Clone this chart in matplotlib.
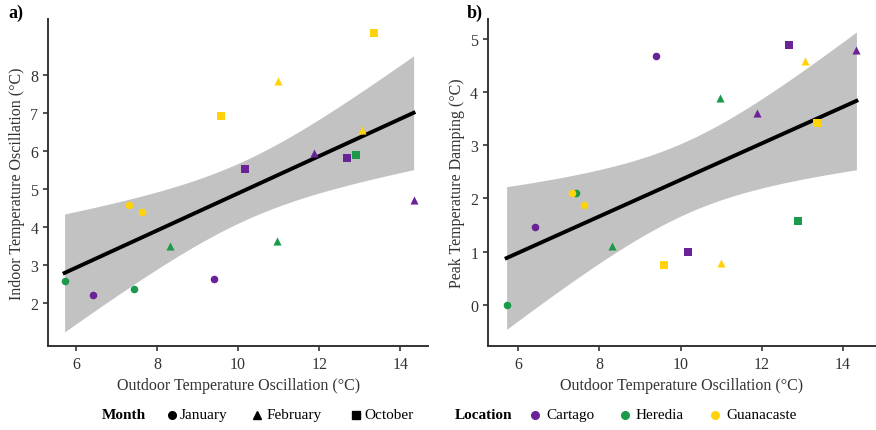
import numpy as np
import matplotlib.pyplot as plt
from matplotlib.lines import Line2D

plt.rcParams['font.family'] = ['Liberation Serif', 'DejaVu Serif']

# outdoor oscillation (shared by both panels), grouped by location then month
locations = ['Cartago', 'Heredia', 'Guanacaste']
months = ['January', 'February', 'October']
loc = ['Cartago'] * 6 + ['Heredia'] * 5 + ['Guanacaste'] * 6
mon = ['January', 'January', 'February', 'February', 'October', 'October',
       'January', 'January', 'February', 'February', 'October',
       'January', 'January', 'February', 'February', 'October', 'October']
outdoor = [6.42, 9.40, 11.88, 14.33, 10.18, 12.68,
           5.72, 7.42, 8.31, 10.97, 12.90,
           7.32, 7.62, 10.99, 13.06, 9.59, 13.36]
indoor_osc = [2.20, 2.63, 5.95, 4.72, 5.53, 5.80,
              2.58, 2.37, 3.50, 3.63, 5.90,
              4.58, 4.40, 7.84, 6.55, 6.92, 9.10]
peak_damp = [1.46, 4.68, 3.61, 4.79, 0.99, 4.87,
             0.00, 2.10, 1.11, 3.89, 1.58,
             2.11, 1.88, 0.79, 4.58, 0.75, 3.42]

# fitted line values read at the lowest and highest outdoor oscillation
fit_a = [2.79, 7.00]
fit_b = [0.88, 3.83]

colors = {'Cartago': '#6a2397', 'Heredia': '#1a9a4a', 'Guanacaste': '#ffd20a'}
markers = {'January': 'o', 'February': '^', 'October': 's'}


def fit_band(x, y, ends, xs):
    # line through the read end values, 95% band width from the OLS residual spread
    x = np.asarray(x)
    y = np.asarray(y)
    n = len(x)
    b = (ends[1] - ends[0]) / (x.max() - x.min())
    a = ends[0] - b * x.min()
    bo, ao = np.polyfit(x, y, 1)
    res = y - (ao + bo * x)
    s = np.sqrt(np.sum(res ** 2) / (n - 2))
    sxx = np.sum((x - x.mean()) ** 2)
    se = s * np.sqrt(1 / n + (xs - x.mean()) ** 2 / sxx)
    t = 2.131  # t(0.975, df=15)
    yh = a + b * xs
    return yh, yh - t * se, yh + t * se


fig = plt.figure(figsize=(8.76, 4.31), dpi=100)
ax1 = fig.add_axes([0.0548, 0.195, 0.434, 0.759])
ax2 = fig.add_axes([0.557, 0.195, 0.442, 0.759])

panels = [(ax1, indoor_osc, fit_a, 'Indoor Temperature Oscillation (°C)'),
          (ax2, peak_damp, fit_b, 'Peak Temperature Damping (°C)')]

for ax, yv, ends, ylab in panels:
    xs = np.linspace(min(outdoor), max(outdoor), 200)
    yh, lo, hi = fit_band(outdoor, yv, ends, xs)
    ax.fill_between(xs, lo, hi, color='#c2c2c2', lw=0, zorder=1)
    ax.plot(xs, yh, color='black', lw=2.8, zorder=2)
    for xi, yi, l, m in zip(outdoor, yv, loc, mon):
        ax.scatter(xi, yi, color=colors[l], marker=markers[m],
                   s=30 if m != 'February' else 34, lw=0, zorder=3)
    ax.set_xlabel('Outdoor Temperature Oscillation (°C)', fontsize=11.5, color='#333333')
    ax.set_ylabel(ylab, fontsize=11.5, color='#333333')
    ax.set_xticks([6, 8, 10, 12, 14])
    ax.spines['top'].set_visible(False)
    ax.spines['right'].set_visible(False)
    for sp in ['left', 'bottom']:
        ax.spines[sp].set_color('#333333')
        ax.spines[sp].set_linewidth(1.4)
    ax.tick_params(labelsize=11.5, colors='#333333', length=3.5, width=1.2)

ax1.set_xlim(5.31, 14.69)
ax1.set_ylim(0.87, 9.47)
ax1.set_yticks([2, 3, 4, 5, 6, 7, 8])
ax2.set_xlim(5.26, 14.79)
ax2.set_ylim(-0.77, 5.37)
ax2.set_yticks([0, 1, 2, 3, 4, 5])

fig.text(0.009, 0.97, 'a)', fontsize=13, fontweight='bold', va='center')
fig.text(0.533, 0.97, 'b)', fontsize=13, fontweight='bold', va='center')

# legend row at bottom
ly = 0.035
fig.text(102 / 876, ly, 'Month', fontsize=11, fontweight='bold', va='center')
for px, gap, m in zip([172, 257, 356], [8, 10, 8], months):
    fig.add_artist(Line2D([px / 876], [ly], transform=fig.transFigure, marker=markers[m],
                          color='black', markersize=5.5, linestyle='none'))
    fig.text((px + gap) / 876, ly, m, fontsize=11, va='center')
fig.text(455 / 876, ly, 'Location', fontsize=11, fontweight='bold', va='center')
for px, l in zip([535, 625, 715], locations):
    fig.add_artist(Line2D([px / 876], [ly], transform=fig.transFigure, marker='o',
                          color=colors[l], markersize=5.5, linestyle='none'))
    fig.text((px + 11) / 876, ly, l, fontsize=11, va='center')

fig.savefig('out.png', dpi=100)
